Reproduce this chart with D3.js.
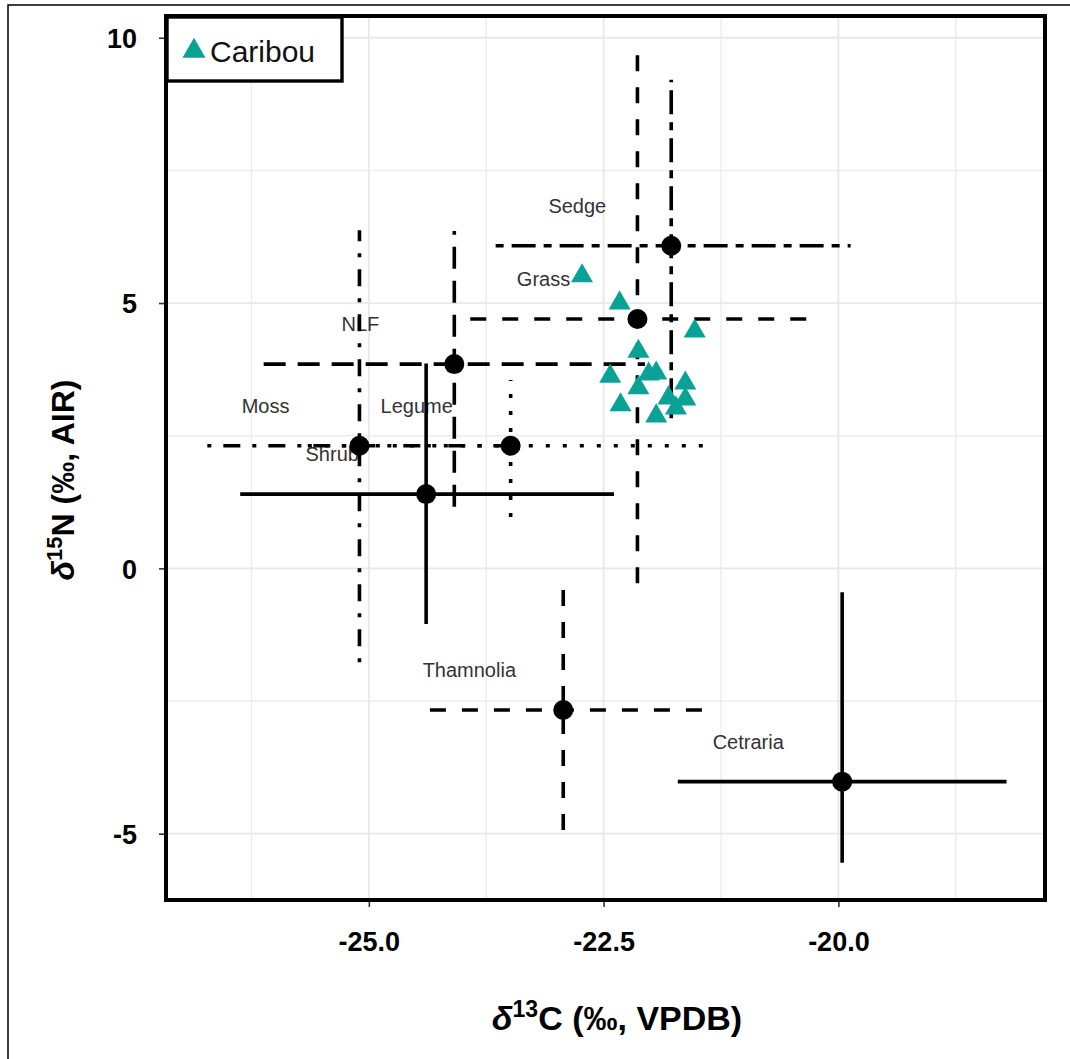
<!DOCTYPE html>
<html>
<head>
<meta charset="utf-8">
<script src="https://cdn.jsdelivr.net/npm/d3@7"></script>
<style>
  html, body { margin: 0; padding: 0; background: #fff; }
  svg { display: block; font-family: "Liberation Sans", Arial, sans-serif; }
</style>
</head>
<body>
<svg id="chart" width="1070" height="1059"></svg>
<script>
// ---- data ----
const groups   = ["Cetraria", "Grass", "Legume", "Moss", "NLF", "Sedge", "Shrub", "Thamnolia"];
const meanC    = [-19.96, -22.14, -23.49, -25.10, -24.09, -21.78, -24.39, -22.93];
const meanN    = [-4.02, 4.70, 2.31, 2.31, 3.85, 6.08, 1.40, -2.67];
const minC     = [-21.71, -23.92, -25.65, -26.72, -26.12, -23.65, -26.37, -24.35];
const maxC     = [-18.21, -20.22, -21.33, -23.48, -22.06, -19.87, -22.39, -21.36];
const minN     = [-5.55, -0.28, 0.97, -1.77, 1.16, 2.83, -1.05, -4.93];
const maxN     = [-0.45, 9.72, 3.55, 6.37, 6.36, 9.21, 3.86, -0.38];
const lineType = ["solid", "dashed", "dotted", "dotdash", "longdash", "twodash", "solid", "dashed"];

const caribouC = [-22.73, -22.33, -21.53, -22.13, -22.43, -22.02, -21.94, -22.13, -21.63, -22.32, -21.81, -21.63, -21.73, -21.94];
const caribouN = [5.51, 5.00, 4.47, 4.09, 3.62, 3.66, 3.68, 3.40, 3.49, 3.08, 3.21, 3.19, 3.02, 2.87];

const xMajor = [-25, -22.5, -20];
const xMinor = [-26.25, -23.75, -21.25, -18.75];
const yMajor = [-5, 0, 5, 10];
const yMinor = [-2.5, 2.5, 7.5];

const legendLabel = "Caribou";

// ---- styles ----
const dashes = {
  solid: null,
  dashed: "16,16",
  dotted: "4,13",
  dotdash: "4,12,17,12",
  longdash: "22,12",
  twodash: "8,8,24,8"
};
const teal = "#0AA197";

const svg = d3.select("#chart");
svg.append("rect").attr("width", 1070).attr("height", 1059).attr("fill", "#fff");
// outer frame
svg.append("rect").attr("x", 8).attr("y", 5).attr("width", 1100).attr("height", 1100)
  .attr("fill", "none").attr("stroke", "#000").attr("stroke-width", 1.5);

const x = d3.scaleLinear().domain([-27.16, -17.80]).range([166, 1045]);
const y = d3.scaleLinear().domain([-6.25, 10.41]).range([900, 16]);

const g = svg.append("g");

// grid
g.selectAll(".vminor").data(xMinor).join("line")
  .attr("x1", d => x(d)).attr("x2", d => x(d)).attr("y1", 16).attr("y2", 900)
  .attr("stroke", "#ececec").attr("stroke-width", 1.4);
g.selectAll(".hminor").data(yMinor).join("line")
  .attr("y1", d => y(d)).attr("y2", d => y(d)).attr("x1", 166).attr("x2", 1045)
  .attr("stroke", "#ececec").attr("stroke-width", 1.4);
g.selectAll(".vmajor").data(xMajor).join("line")
  .attr("x1", d => x(d)).attr("x2", d => x(d)).attr("y1", 16).attr("y2", 900)
  .attr("stroke", "#e8e8e8").attr("stroke-width", 1.8);
g.selectAll(".hmajor").data(yMajor).join("line")
  .attr("y1", d => y(d)).attr("y2", d => y(d)).attr("x1", 166).attr("x2", 1045)
  .attr("stroke", "#e8e8e8").attr("stroke-width", 1.8);

const rows = groups.map((name, i) => ({
  name, c: meanC[i], n: meanN[i],
  c0: minC[i], c1: maxC[i], n0: minN[i], n1: maxN[i], lt: lineType[i]
}));

// labels (nudged)
g.selectAll(".lab").data(rows).join("text")
  .attr("x", d => x(d.c - 1.0)).attr("y", d => y(d.n + 0.75))
  .attr("text-anchor", "middle").attr("dominant-baseline", "central")
  .attr("font-size", 20).attr("fill", "#333")
  .text(d => d.name);

// error bars
g.selectAll(".hbar").data(rows).join("line")
  .attr("x1", d => x(d.c0)).attr("x2", d => x(d.c1))
  .attr("y1", d => y(d.n)).attr("y2", d => y(d.n))
  .attr("stroke", "#000").attr("stroke-width", 3.6)
  .attr("stroke-dasharray", d => dashes[d.lt]);
g.selectAll(".vbar").data(rows).join("line")
  .attr("x1", d => x(d.c)).attr("x2", d => x(d.c))
  .attr("y1", d => y(d.n0)).attr("y2", d => y(d.n1))
  .attr("stroke", "#000").attr("stroke-width", 3.6)
  .attr("stroke-dasharray", d => dashes[d.lt]);

// means
g.selectAll(".pt").data(rows).join("circle")
  .attr("cx", d => x(d.c)).attr("cy", d => y(d.n)).attr("r", 10).attr("fill", "#000");

// caribou
const tri = d3.symbol(d3.symbolTriangle, 210);
g.selectAll(".car").data(caribouC.map((c, i) => ({c, n: caribouN[i]}))).join("path")
  .attr("d", tri)
  .attr("transform", d => `translate(${x(d.c)},${y(d.n)})`)
  .attr("fill", teal);

// axes
const xAxis = svg.append("g").attr("transform", "translate(0,900)")
  .call(d3.axisBottom(x).tickValues(xMajor).tickSize(7).tickFormat(d => d.toFixed(1)));
xAxis.select(".domain").remove();
xAxis.selectAll("line").attr("stroke", "#333").attr("stroke-width", 1.6);
xAxis.selectAll("text").attr("y", 0).attr("dy", null).attr("transform", "translate(0,51)")
  .attr("font-size", 27).attr("font-weight", "bold").attr("fill", "#000")
  .attr("font-family", "Liberation Sans, Arial, sans-serif");

const yAxis = svg.append("g").attr("transform", "translate(166,0)")
  .call(d3.axisLeft(y).tickValues(yMajor).tickSize(7).tickPadding(22).tickFormat(d => String(d)));
yAxis.select(".domain").remove();
yAxis.selectAll("line").attr("stroke", "#333").attr("stroke-width", 1.6);
yAxis.selectAll("text").attr("font-size", 27).attr("font-weight", "bold").attr("fill", "#000")
  .attr("dy", "0.36em")
  .attr("font-family", "Liberation Sans, Arial, sans-serif");

// panel border
svg.append("rect").attr("x", 166).attr("y", 16).attr("width", 879).attr("height", 884)
  .attr("fill", "none").attr("stroke", "#000").attr("stroke-width", 4);

// legend
svg.append("rect").attr("x", 167).attr("y", 17).attr("width", 175).attr("height", 64)
  .attr("fill", "#fff").attr("stroke", "#000").attr("stroke-width", 3.4);
svg.append("path").attr("d", d3.symbol(d3.symbolTriangle, 230))
  .attr("transform", "translate(194,51)").attr("fill", teal);
svg.append("text").attr("x", 210).attr("y", 62).attr("font-size", 30).attr("fill", "#111")
  .text(legendLabel);

// axis titles
const xt = svg.append("text").attr("x", 617).attr("y", 1030).attr("text-anchor", "middle")
  .attr("font-size", 34).attr("font-weight", "bold").attr("fill", "#000");
xt.append("tspan").attr("font-style", "italic").text("δ");
xt.append("tspan").attr("font-size", 23).attr("dy", -13).text("13");
xt.append("tspan").attr("dy", 13).text("C (‰, VPDB)");

const yt = svg.append("text").attr("transform", "translate(74,480) rotate(-90)")
  .attr("text-anchor", "middle")
  .attr("font-size", 32).attr("font-weight", "bold").attr("fill", "#000");
yt.append("tspan").attr("font-style", "italic").text("δ");
yt.append("tspan").attr("font-size", 22).attr("dy", -12).text("15");
yt.append("tspan").attr("dy", 12).text("N (‰, AIR)");
</script>
</body>
</html>
